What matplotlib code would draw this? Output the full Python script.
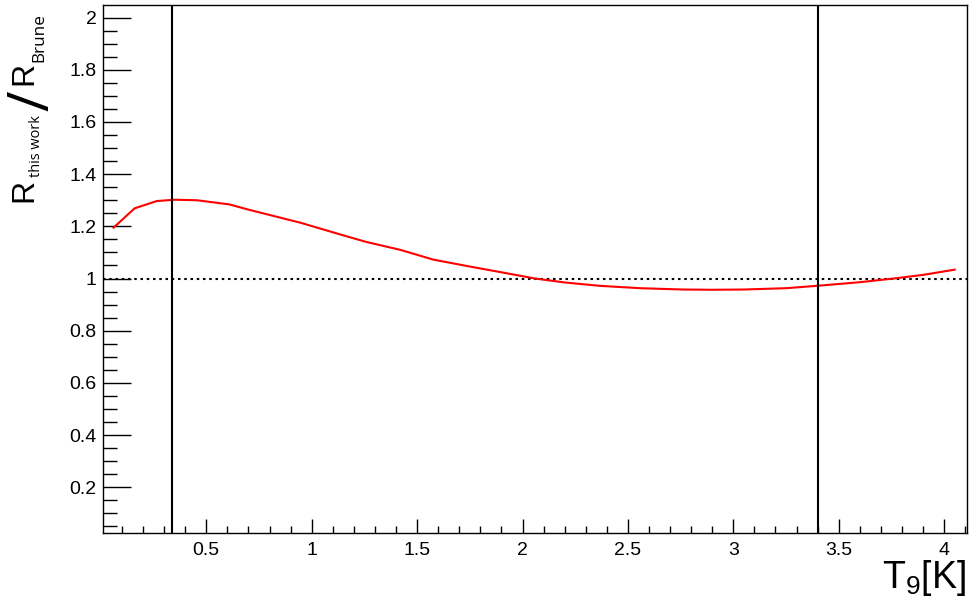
import matplotlib
matplotlib.use("Agg")
import matplotlib.pyplot as plt
import matplotlib.transforms as mtransforms
from matplotlib.ticker import MultipleLocator, FuncFormatter
from matplotlib.textpath import TextPath
from matplotlib.font_manager import FontProperties

plt.rcParams['font.family'] = ['Liberation Sans', 'DejaVu Sans']
plt.rcParams['mathtext.fontset'] = 'custom'
plt.rcParams['mathtext.rm'] = 'Liberation Sans'
plt.rcParams['mathtext.it'] = 'Liberation Sans'

# Ratio curve R_this_work / R_Brune vs T9
t9 = [0.06, 0.16, 0.265, 0.35, 0.455, 0.61, 0.7, 0.946, 1.135, 1.26, 1.42, 1.577,
      1.75, 1.893, 2.06, 2.2, 2.368, 2.558, 2.76, 2.9, 3.05, 3.25, 3.396, 3.6, 3.76, 3.9, 4.05]
ratio = [1.195, 1.269, 1.297, 1.302, 1.300, 1.284, 1.264, 1.214, 1.169, 1.140, 1.110, 1.0725,
         1.046, 1.025, 1.000, 0.985, 0.972, 0.963, 0.958, 0.957, 0.958, 0.963, 0.972, 0.986, 1.000, 1.014, 1.034]

# vertical marker lines
vlines_x = [0.336, 3.4]
ref_level = 1.0

xlim = (0.01, 4.11)
ylim = (0.025, 2.047)

W, H = 976, 613
fig = plt.figure(figsize=(W / 100, H / 100), dpi=100)
ax = fig.add_axes([103 / W, 1 - 533 / H, (967.3 - 103) / W, (533 - 5.3) / H])

ax.plot(t9, ratio, color='#ff0000', lw=1.5, zorder=3)
ax.axhline(ref_level, color='black', lw=1.5, dashes=(1.2, 1.8), zorder=2)
for xv in vlines_x:
    ax.axvline(xv, color='black', lw=1.5, zorder=4)

ax.set_xlim(*xlim)
ax.set_ylim(*ylim)

ax.xaxis.set_major_locator(MultipleLocator(0.5))
ax.xaxis.set_minor_locator(MultipleLocator(0.1))
ax.yaxis.set_major_locator(MultipleLocator(0.2))
ax.yaxis.set_minor_locator(MultipleLocator(0.05))
fmt = FuncFormatter(lambda v, p: f"{v:g}")
ax.xaxis.set_major_formatter(fmt)
ax.yaxis.set_major_formatter(fmt)

ax.tick_params(axis='both', which='both', direction='in', top=False, right=False,
               labelsize=14, width=1.0, color='black')
ax.tick_params(axis='x', which='major', length=10, pad=6.5)
ax.tick_params(axis='x', which='minor', length=5)
ax.tick_params(axis='y', which='major', length=20, pad=4.5)
ax.tick_params(axis='y', which='minor', length=10)
for s in ax.spines.values():
    s.set_linewidth(1.0)

ident = mtransforms.IdentityTransform()

# x label
fig.text(966, H - 588, r'T$_9$[K]', transform=ident, ha='right', va='baseline', fontsize=27)

fig.canvas.draw()
renderer = fig.canvas.get_renderer()


def place_fit(s, fam, size_pt, X, ybot_img, L=None):
    t = fig.text(X, H - ybot_img, s, transform=ident, rotation=90, rotation_mode='anchor',
                 ha='left', va='baseline', fontsize=size_pt, family=fam)
    if L is not None:
        for _ in range(3):
            bb = t.get_window_extent(renderer)
            t.set_fontsize(t.get_fontsize() * L / bb.height)
    bb = t.get_window_extent(renderer)
    t.set_position((X, H - ybot_img + (H - ybot_img - bb.y0)))
    return t


# y label pieces
place_fit('R', ['Liberation Sans'], 23, 32, 202)
place_fit('this work', ['Open Sans'], 12, 40, 177, L=62)
place_fit('R', ['Liberation Sans'], 23, 32, 85)
place_fit('Brune', ['Open Sans'], 12, 43, 62, L=49)

# slash: ink from x=8 to 48, centred at img y=101
tp = TextPath((0, 0), '/', size=100, prop=FontProperties(family=['Open Sans']))
e = tp.get_extents()
em = 100 * 40 / (e.y1 - e.y0)
tp = TextPath((0, 0), '/', size=em, prop=FontProperties(family=['Open Sans']))
e = tp.get_extents()
fig.text(8 + e.y1, (H - 101) - (e.x1 - e.x0) / 2, '/', transform=ident, rotation=90,
         rotation_mode='anchor', ha='left', va='baseline', fontsize=em * 72 / 100,
         family=['Open Sans'])

fig.savefig('out.png', dpi=100)
